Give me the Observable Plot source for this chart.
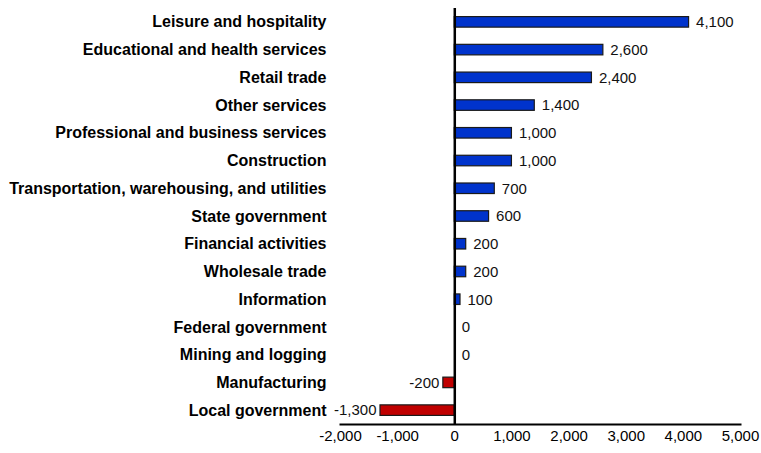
<!DOCTYPE html>
<html>
<head>
<meta charset="utf-8">
<script src="https://cdn.jsdelivr.net/npm/d3@7"></script>
<script src="https://cdn.jsdelivr.net/npm/@observablehq/plot@0.6"></script>
<style>
  html, body { margin: 0; padding: 0; background: #fff; }
  #chart svg { display: block; }
</style>
</head>
<body>
<div id="chart"></div>
<script>
const categories = [
  "Leisure and hospitality",
  "Educational and health services",
  "Retail trade",
  "Other services",
  "Professional and business services",
  "Construction",
  "Transportation, warehousing, and utilities",
  "State government",
  "Financial activities",
  "Wholesale trade",
  "Information",
  "Federal government",
  "Mining and logging",
  "Manufacturing",
  "Local government"
];
const values = [4100, 2600, 2400, 1400, 1000, 1000, 700, 600, 200, 200, 100, 0, 0, -200, -1300];
const xTicks = [-2000, -1000, 0, 1000, 2000, 3000, 4000, 5000];

const data = categories.map((c, i) => ({ category: c, value: values[i] }));
const fmt = d => d.toLocaleString("en-US");
const font = "Liberation Sans, Arial, sans-serif";

const chart = Plot.plot({
  width: 761,
  height: 453,
  marginLeft: 340,
  marginRight: 21,
  marginTop: 8,
  marginBottom: 29,
  style: { fontFamily: font, fontSize: "15px", color: "#000", background: "#fff" },
  x: { domain: [-2000, 5000], ticks: xTicks, tickFormat: fmt, label: null },
  y: { domain: categories, label: null, paddingInner: 0.62, paddingOuter: 0.31, round: false },
  marks: [
    Plot.barX(data, {
      x: "value", y: "category",
      fill: d => d.value < 0 ? "#c00000" : "#0033cc",
      stroke: "#1a1a1a", strokeWidth: 1.2
    }),
    Plot.frame({ anchor: "bottom", stroke: "#000", strokeWidth: 2 }),
    Plot.ruleX([0], { stroke: "#000", strokeWidth: 2.5 }),
    Plot.axisX({ ticks: xTicks, tickFormat: fmt, tickSize: 0, tickPadding: 6, fontSize: 15, label: null }),
    Plot.axisY({ tickSize: 0, tickPadding: 14, fontWeight: "bold", fontSize: 16, label: null }),
    Plot.text(data.filter(d => d.value >= 0), {
      x: "value", y: "category", text: d => fmt(d.value),
      textAnchor: "start", dx: 7, fontSize: 15, fill: "#111"
    }),
    Plot.text(data.filter(d => d.value < 0), {
      x: "value", y: "category", text: d => fmt(d.value),
      textAnchor: "end", dx: -4, fontSize: 15, fill: "#111"
    })
  ]
});
document.getElementById("chart").appendChild(chart);
</script>
</body>
</html>
